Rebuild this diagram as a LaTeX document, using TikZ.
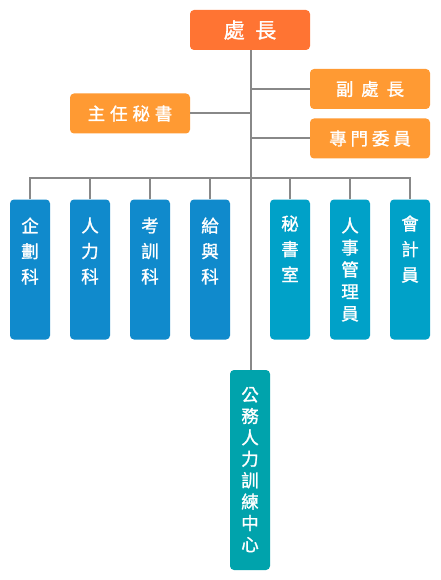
\documentclass[tikz,border=0pt]{standalone}
\usepackage{fontspec}
\newfontfamily\cjk[AutoFakeBold=1.2]{Noto Sans CJK TC}
\definecolor{chiefc}{HTML}{FF7433}
\definecolor{subc}{HTML}{FF9A33}
\definecolor{leftc}{HTML}{108ACC}
\definecolor{rightc}{HTML}{00A1C8}
\definecolor{botc}{HTML}{00A3AC}
\definecolor{linec}{HTML}{888888}
\tikzset{
  box/.style={rounded corners=4pt, inner sep=0pt, text=white, font=\cjk\bfseries\fontsize{17.5pt}{20pt}\selectfont},
  hbox/.style={box, minimum width=120pt, minimum height=40pt},
  vbox/.style={box, minimum width=40pt, minimum height=140pt},
  vtext/.style={anchor=north, inner sep=0pt, text=white, align=center, font=\cjk\bfseries\fontsize{17.5pt}{25.5pt}\selectfont},
  vtextl/.style={vtext, font=\cjk\bfseries\fontsize{17.5pt}{22pt}\selectfont},
  conn/.style={draw=linec, line width=2pt}
}
\begin{document}
\begin{tikzpicture}[x=1pt,y=-1pt]
\useasboundingbox[fill=white] (0,0) rectangle (440,580);
% top level
\node[hbox, fill=chiefc, font=\cjk\bfseries\fontsize{21pt}{24pt}\selectfont] (chief) at (250,30) {處\hspace{0.5em}長};
\node[hbox, fill=subc] (deputy) at (370,89) {副\hspace{0.45em}處\hspace{0.45em}長};
\node[hbox, fill=subc] (comm) at (370,138.5) {專\hspace{0.22em}門\hspace{0.22em}委\hspace{0.22em}員};
\node[hbox, fill=subc] (sec) at (130,113.5) {主\hspace{0.28em}任\hspace{0.28em}秘\hspace{0.28em}書};
% departments
\node[vbox, fill=leftc] (k1) at (30,269.5) {};
\node[vbox, fill=leftc] (k2) at (90,269.5) {};
\node[vbox, fill=leftc] (k3) at (150,269.5) {};
\node[vbox, fill=leftc] (k4) at (210,269.5) {};
\node[vbox, fill=rightc] (k5) at (290,269.5) {};
\node[vbox, fill=rightc] (k6) at (350,269.5) {};
\node[vbox, fill=rightc] (k7) at (410,269.5) {};
\node[box, fill=botc, minimum width=40pt, minimum height=200pt] (train) at (250,470) {};
% texts
\node[vtext] (t1) at ([yshift=-18pt]k1.north) {企\\劃\\科};
\node[vtext] (t2) at ([yshift=-18pt]k2.north) {人\\力\\科};
\node[vtext] (t3) at ([yshift=-18pt]k3.north) {考\\訓\\科};
\node[vtext] (t4) at ([yshift=-18pt]k4.north) {給\\與\\科};
\node[vtext] (t5) at ([yshift=-16pt]k5.north) {秘\\書\\室};
\node[vtextl] (t6) at ([yshift=-18pt]k6.north) {人\\事\\管\\理\\員};
\node[vtext] (t7) at ([yshift=-16pt]k7.north) {會\\計\\員};
\node[vtextl, font=\cjk\bfseries\fontsize{17.5pt}{21.4pt}\selectfont] (t8) at ([yshift=-17pt]train.north) {公\\務\\人\\力\\訓\\練\\中\\心};
% connectors
\coordinate (bus) at (251,178);
\begin{scope}[conn]
\draw ([xshift=1pt]chief.south) -- ([xshift=1pt]train.north);
\draw ([xshift=1pt]chief.south |- deputy.west) -- (deputy.west);
\draw ([xshift=1pt]chief.south |- comm.west) -- (comm.west);
\draw ([xshift=1pt]chief.south |- sec.east) -- (sec.east);
\draw (k1.north) -- (k1.north |- bus) -- (k7.north |- bus) -- (k7.north);
\foreach \k in {k2,k3,k4,k5,k6} \draw (\k.north) -- (\k.north |- bus);
\end{scope}
\end{tikzpicture}
\end{document}
